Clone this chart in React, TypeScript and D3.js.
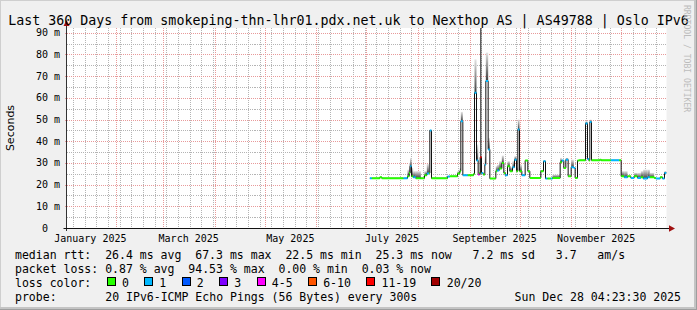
import React from 'react';
import * as d3 from 'd3';

// ---------- data ----------
const END_TIME = Date.UTC(2025, 11, 28, 4, 23, 30);
const SPAN_DAYS = 360;
const DAY_MS = 86400000;
const START_TIME = END_TIME - SPAN_DAYS * DAY_MS;

// segments: start day (offset from graph start), median rtt (ms), smoke top (ms), loss class
const segDay = [182.0, 183.2, 188.0, 189.2, 202.2, 204.6, 205.6, 206.2, 207.0, 208.0, 209.6, 212.6, 214.8, 216.2, 217.6, 218.0, 219.0, 228.6, 230.0, 234.6, 236.0, 236.6, 237.8, 240.8, 244.2, 244.8, 246.0, 247.0, 247.8, 248.2, 249.0, 250.0, 251.0, 251.6, 253.0, 254.0, 257.6, 258.4, 259.6, 261.2, 262.4, 263.2, 264.6, 266.0, 267.6, 268.8, 270.0, 270.8, 271.8, 273.2, 275.2, 276.8, 278.0, 284.6, 286.2, 287.4, 288.6, 290.6, 291.6, 296.2, 297.2, 298.4, 299.6, 301.0, 302.8, 304.4, 305.2, 306.6, 307.6, 311.4, 312.6, 313.4, 314.0, 315.0, 320.0, 320.8, 326.6, 331.6, 332.8, 334.6, 336.6, 338.6, 340.6, 342.6, 344.6, 346.0, 348.6, 350.0, 352.6, 353.6, 356.2, 357.6, 358.8];
const segMedian = [22.9, 22.9, 23.4, 22.9, 22.9, 23.8, 25.4, 28.5, 23.8, 23.4, 22.9, 22.9, 24.3, 25.1, 25.4, 44.9, 22.9, 23.7, 23.8, 25.1, 26.2, 49.2, 24.3, 24.3, 24.9, 62.3, 31.1, 24.6, 25.4, 32.6, 25.4, 24.6, 29.2, 67.7, 36.2, 22.8, 26.2, 26.5, 27.4, 30.0, 25.4, 24.3, 28.5, 26.2, 28.0, 31.5, 26.2, 45.4, 26.2, 24.3, 31.1, 26.2, 23.1, 26.2, 30.8, 22.8, 22.8, 22.8, 23.1, 30.3, 31.1, 27.7, 31.5, 23.8, 28.0, 27.7, 23.1, 31.1, 31.2, 48.2, 31.8, 31.1, 48.9, 31.2, 31.5, 31.2, 31.2, 31.2, 23.8, 23.4, 23.8, 23.1, 23.8, 23.1, 23.4, 22.8, 23.4, 23.4, 23.1, 22.8, 23.4, 22.8, 25.4];
const segSmokeTop = [22.9, 22.9, 23.4, 22.9, 22.9, 26.9, 30.0, 32.3, 27.7, 26.2, 26.2, 22.9, 26.2, 29.5, 26.2, 45.4, 22.9, 23.7, 23.8, 26.2, 27.7, 53.5, 24.3, 24.3, 24.9, 77.7, 38.5, 24.6, 25.4, 32.6, 25.4, 24.6, 33.1, 80.8, 41.5, 22.8, 28.5, 29.2, 30.8, 33.4, 26.2, 24.3, 30.8, 28.0, 30.8, 33.1, 28.0, 50.0, 29.2, 24.3, 31.1, 26.2, 23.1, 26.2, 30.8, 22.8, 22.8, 22.8, 24.6, 32.3, 31.1, 27.7, 32.3, 23.8, 31.5, 27.7, 23.1, 31.1, 31.2, 49.2, 31.8, 31.1, 50.0, 31.2, 31.5, 31.2, 31.2, 31.2, 26.2, 26.2, 23.8, 23.1, 25.4, 25.4, 26.2, 26.9, 26.9, 25.4, 23.1, 22.8, 23.4, 22.8, 26.2];
const segLoss = [1, 0, 0, 0, 1, 0, 0, 1, 0, 1, 0, 0, 0, 1, 0, 1, 0, 1, 0, 0, 0, 1, 1, 0, 0, 1, 1, 4, 0, 6, 1, 0, 1, 1, 1, 0, 0, 1, 0, 0, 0, 1, 0, 0, 1, 1, 0, 1, 0, 1, 0, 0, 0, 0, 1, 1, 0, 1, 0, 0, 1, 0, 1, 0, 1, 1, 0, 0, 0, 1, 1, 0, 1, 0, 0, 0, 1, 0, 0, 1, 0, 1, 0, 1, 0, 1, 1, 0, 0, 1, 0, 1, 1];
const SERIES_END_DAY = 360;

// thin dark smoke spikes
const spikeDay = [248.6];
const spikeLow = [24.6];
const spikeTop = [92.2];

const Y_MAX = 92.17;
const yMajorTicks = [0, 10, 20, 30, 40, 50, 60, 70, 80, 90];
const yMinorTicks = [5, 15, 25, 35, 45, 55, 65, 75, 85];
const yTickLabels = ['0  ', '10 m', '20 m', '30 m', '40 m', '50 m', '60 m', '70 m', '80 m', '90 m'];
const xLabelMonths = [0, 2, 4, 6, 8, 10];

const lossColors = ['#26ff00', '#00b8ff', '#0059ff', '#7e00ff', '#ff00ff', '#ff5500', '#ff0000', '#a10000'];
const lossLabels = ['0', '1', '2', '3', '4-5', '6-10', '11-19', '20/20'];

const titleText = 'Last 360 Days from smokeping-thn-lhr01.pdx.net.uk to Nexthop AS | AS49788 | Oslo IPv6';
const medianLine = 'median rtt:  26.4 ms avg  67.3 ms max  22.5 ms min  25.3 ms now   7.2 ms sd   3.7   am/s';
const lossLine = 'packet loss: 0.87 % avg  94.53 % max  0.00 % min  0.03 % now';
const probeLabel = 'probe:';
const probeText = '20 IPv6-ICMP Echo Pings (56 Bytes) every 300s';
const dateText = 'Sun Dec 28 04:23:30 2025';

// ---------- chart ----------
const MONO = "'DejaVu Sans Mono', monospace";
const nb = (s: string) => s.replace(/ /g, '\u00a0');

export default function App() {
  const W = 697, H = 310;
  const left = 66.5, right = 666.5, top = 28, bottom = 228;
  const start = new Date(START_TIME), end = new Date(END_TIME);
  const x = d3.scaleTime().domain([start, end]).range([left, right]);
  const y = d3.scaleLinear().domain([0, Y_MAX]).range([bottom, top]);
  const dd = (d: number) => new Date(START_TIME + d * DAY_MS);

  const monthStarts = d3.utcMonth.range(start, end);
  const weekStarts = d3.utcMonday.range(start, end);
  const fmt = d3.utcFormat('%B %Y');

  const segs = segDay.map((d, i) => ({
    x0: x(dd(d)),
    x1: x(dd(i + 1 < segDay.length ? segDay[i + 1] : SERIES_END_DAY)),
    med: segMedian[i],
    hi: segSmokeTop[i],
    loss: segLoss[i],
  }));

  const stepPts: [number, number][] = segs.map(s => [s.x0, y(s.med)]);
  stepPts.push([segs[segs.length - 1].x1, y(segs[segs.length - 1].med)]);
  const stepPath = d3.line().curve(d3.curveStepAfter)(stepPts) || '';

  const cw = 11.53 * 0.602;
  const legX = 15;
  const lossItems: { bx: number; tx: number; i: number }[] = [];
  let cur = legX + 13.2 * cw;
  lossLabels.forEach((lab, i) => {
    const bx = cur;
    const tx = bx + 2.2 * cw;
    lossItems.push({ bx, tx, i });
    cur = tx + lab.length * cw + 2.2 * cw;
  });

  return (
    <svg width={W} height={H} style={{ position: 'absolute', left: 0, top: 0, display: 'block' }}
      xmlns="http://www.w3.org/2000/svg">
      <defs>
        <linearGradient id="smoke" x1="0" y1="1" x2="0" y2="0">
          <stop offset="0" stopColor="#3c3c3c" />
          <stop offset="1" stopColor="#e4e4e4" />
        </linearGradient>
        <clipPath id="plot">
          <rect x={left} y={top} width={right - left} height={bottom - top} />
        </clipPath>
      </defs>
      <rect x={0} y={0} width={W} height={H} fill="#f0f0f0" />
      <line x1={0} y1={0.5} x2={W} y2={0.5} stroke="#cfcfcf" />
      <line x1={0.5} y1={0} x2={0.5} y2={H} stroke="#cfcfcf" />
      <rect x={W - 3} y={0} width={3} height={H} fill="#c4c4c4" />
      <rect x={0} y={H - 3} width={W} height={3} fill="#c4c4c4" />
      <rect x={W - 1} y={0} width={1} height={H} fill="#9e9e9e" />
      <rect x={0} y={H - 1} width={W} height={1} fill="#9e9e9e" />

      <rect x={left} y={top} width={right - left} height={bottom - top} fill="#ffffff" />

      {/* grid */}
      <g shapeRendering="crispEdges">
        {weekStarts.map((d, i) => (
          <line key={'w' + i} x1={Math.round(x(d)) + 0.5} x2={Math.round(x(d)) + 0.5} y1={top} y2={bottom}
            stroke="#b4b4b4" strokeDasharray="1,1" />
        ))}
        {yMinorTicks.map((v, i) => (
          <line key={'ym' + i} x1={left} x2={right} y1={Math.round(y(v)) + 0.5} y2={Math.round(y(v)) + 0.5}
            stroke="#b4b4b4" strokeDasharray="1,1" />
        ))}
        {monthStarts.map((d, i) => (
          <line key={'m' + i} x1={Math.round(x(d)) + 0.5} x2={Math.round(x(d)) + 0.5} y1={top} y2={bottom + 2}
            stroke="#e89a9a" strokeDasharray="1,1" />
        ))}
        {yMajorTicks.filter(v => v > 0).map((v, i) => (
          <line key={'yM' + i} x1={left - 2} x2={right} y1={Math.round(y(v)) + 0.5} y2={Math.round(y(v)) + 0.5}
            stroke="#e89a9a" strokeDasharray="1,1" />
        ))}
      </g>

      {/* data */}
      <g clipPath="url(#plot)">
        {segs.filter(s => s.hi > s.med + 0.2).map((s, i) => (
          <rect key={'s' + i} x={s.x0} width={Math.max(1, s.x1 - s.x0)} y={y(s.hi)} height={y(s.med) - y(s.hi)}
            fill="url(#smoke)" />
        ))}
        {spikeDay.map((d, i) => (
          <line key={'sp' + i} x1={x(dd(d))} x2={x(dd(d))} y1={y(spikeLow[i])} y2={y(spikeTop[i])}
            stroke="#111" strokeWidth={1} />
        ))}
        <path d={stepPath} fill="none" stroke="#111" strokeWidth={1} />
        {segs.map((s, i) => (
          <line key={'c' + i} x1={s.x0} x2={s.x1} y1={y(s.med)} y2={y(s.med)}
            stroke={lossColors[s.loss]} strokeWidth={2} />
        ))}
      </g>

      {/* axes */}
      <line x1={left} x2={left} y1={23} y2={bottom + 3} stroke="#333" />
      <line x1={left - 3} x2={671} y1={bottom + 0.5} y2={bottom + 0.5} stroke="#111" />
      <polygon points={`${left - 3},26 ${left},20 ${left + 3},26`} fill="#a01010" />
      <polygon points={`669,225.3 675,228.5 669,231.7`} fill="#a01010" />

      {/* tick labels */}
      <g fontFamily={MONO} fontSize={10} fill="#000">
        {yMajorTicks.map((v, i) => (
          <text key={'yl' + i} x={60} y={y(v) + 3.5} textAnchor="end">{nb(yTickLabels[i])}</text>
        ))}
        {xLabelMonths.map((m, i) => {
          const a = Date.UTC(2025, m, 1), b = Date.UTC(2025, m + 1, 1);
          const mid = new Date((a + b) / 2);
          return (
            <text key={'xl' + i} x={x(mid)} y={241.5} textAnchor="middle">{fmt(new Date(a))}</text>
          );
        })}
      </g>

      {/* y axis title */}
      <text transform="translate(14,128) rotate(-90)" textAnchor="middle"
        fontFamily="'DejaVu Sans', sans-serif" fontSize={11} fill="#000">Seconds</text>

      {/* title */}
      <text x={348.5} y={24.5} textAnchor="middle" fontFamily={MONO} fontSize={13.3} fill="#000">{nb(titleText)}</text>

      {/* watermark */}
      <text transform="translate(684,5) rotate(90)" fontFamily={MONO} fontSize={8.1} fill="#bcbcbc">
        {nb('RRDTOOL / TOBI OETIKER')}
      </text>

      {/* legend */}
      <g fontFamily={MONO} fontSize={11.53} fill="#000">
        <text x={legX} y={258.5}>{nb(medianLine)}</text>
        <text x={legX} y={272.5}>{nb(lossLine)}</text>
        <text x={legX} y={286.5}>{nb('loss color:')}</text>
        {lossItems.map(it => (
          <g key={'li' + it.i}>
            <rect x={Math.round(it.bx) + 0.5} y={277.5} width={8} height={8} fill={lossColors[it.i]} stroke="#000" />
            <text x={it.tx} y={286.5}>{lossLabels[it.i]}</text>
          </g>
        ))}
        <text x={legX} y={300.5}>{probeLabel}</text>
        <text x={legX + 13 * cw} y={300.5}>{nb(probeText)}</text>
        <text x={681} y={300.5} textAnchor="end">{dateText}</text>
      </g>
    </svg>
  );
}
